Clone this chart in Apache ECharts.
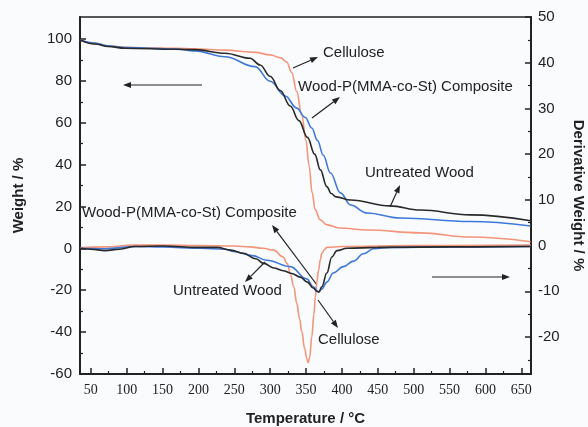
<!DOCTYPE html>
<html>
<head>
<meta charset="utf-8">
<script src="https://cdn.jsdelivr.net/npm/echarts@6/dist/echarts.min.js"></script>
<style>
  html, body { margin: 0; padding: 0; background: #fafbfd; }
  #chart { width: 588px; height: 427px; }
</style>
</head>
<body>
<div id="chart"></div>
<script>
// TGA curves (left axis, weight %)
const woodT = [35, 56, 74, 98, 168, 195, 237, 272, 286, 300, 314, 328, 340, 352, 362, 370, 379, 385, 392, 412, 467, 509, 579, 663];
const woodW = [99.5, 97.6, 96.4, 95.6, 95.1, 94.9, 93.2, 90.8, 87.6, 82.2, 75.4, 68, 61, 53, 45, 37.5, 29.5, 26.2, 24.6, 23.1, 20.3, 18.3, 16, 13.2];

const compT = [35, 56, 74, 98, 168, 195, 237, 279, 300, 321, 337, 349, 358, 366, 374, 384, 398, 412, 435, 481, 579, 663];
const compW = [99.5, 98.1, 96.7, 95.9, 95.2, 94.3, 91.5, 86.8, 79.8, 72.8, 67, 62.5, 57.5, 51.5, 44.5, 36, 26.5, 20.7, 16.9, 14.5, 12.8, 10.7];

const cellT = [35, 56, 77, 100, 125, 168, 195, 237, 279, 300, 315, 323, 330, 337, 344, 350, 354, 358.6, 362.7, 369.7, 379.5, 397.6, 435, 509, 579, 663];
const cellW = [99.5, 97.8, 96.6, 96.0, 95.8, 95.6, 95.3, 94.7, 93.6, 92.4, 91, 89, 84, 75, 63.5, 51.5, 40, 26.5, 18.5, 13.6, 11.2, 9.7, 8.8, 7.4, 5.4, 3.2];

// DTG curves (right axis, derivative weight %)
const dWoodT = [35, 50, 70, 90, 112, 150, 200, 226, 245, 263, 280, 291, 305, 318, 330, 342, 352, 360, 365, 368, 372, 379, 386, 393, 407, 450, 550, 663];
const dWoodD = [-0.6, -0.8, -1.1, -0.8, -0.2, -0.1, -0.4, -0.4, -1.0, -1.7, -2.9, -3.9, -4.9, -5.5, -6.1, -6.9, -8.0, -9.3, -10.0, -10.2, -9.0, -6.0, -2.5, -1.1, -0.6, -0.4, -0.3, -0.2];

const dCompT = [35, 70, 112, 150, 203, 237, 249, 275, 295, 328, 351, 360, 367, 372, 379, 388, 402, 416, 430, 444, 470, 550, 663];
const dCompD = [-0.6, -0.7, -0.2, -0.3, -0.6, -0.8, -1.3, -2.2, -3.2, -4.6, -7.3, -9.0, -10.1, -9.5, -8.0, -6.0, -4.6, -3.4, -1.8, -0.7, -0.4, -0.3, -0.2];

const dCellT = [35, 70, 110, 150, 200, 250, 272, 290, 305, 318, 324, 328, 333, 337, 341, 344, 348, 351, 353, 355, 358, 361, 363, 365, 367.4, 370, 372, 376, 379, 400, 500, 663];
const dCellD = [-0.5, -0.3, 0.1, 0.1, 0, -0.1, -0.3, -0.6, -1.0, -2.5, -4, -6.1, -9, -12.6, -16, -18.8, -22.5, -24.7, -25.6, -24.5, -20, -15, -11.2, -8, -5.4, -3, -1.7, -0.8, -0.4, -0.2, 0, 0.1];

// tick labels
const xTicks = [50, 100, 150, 200, 250, 300, 350, 400, 450, 500, 550, 600, 650];
const xMinor = [75, 125, 175, 225, 275, 325, 375, 425, 475, 525, 575, 625];
const leftTicks = [-60, -40, -20, 0, 20, 40, 60, 80, 100];
const leftMinor = [-50, -30, -10, 10, 30, 50, 70, 90];
const rightTicks = [-20, -10, 0, 10, 20, 30, 40, 50];
const rightMinor = [-25, -15, -5, 5, 15, 25, 35, 45];

const pairs = (xs, ys) => xs.map((x, i) => [x, ys[i]]);

const C_CELL = "#f2957a";
const C_WOOD = "#2a2a2a";
const C_COMP = "#3f78da";

function arrow(x1, y1, x2, y2) {
  const a = Math.atan2(y2 - y1, x2 - x1);
  const L = 8, w = 3;
  const bx = x2 - L * Math.cos(a), by = y2 - L * Math.sin(a);
  return {
    type: "group",
    children: [
      { type: "line", shape: { x1, y1, x2: bx, y2: by }, style: { stroke: "#222", lineWidth: 1.2 } },
      {
        type: "polygon",
        shape: { points: [[x2, y2], [bx + w * Math.sin(a), by - w * Math.cos(a)], [bx - w * Math.sin(a), by + w * Math.cos(a)]] },
        style: { fill: "#222" },
      },
    ],
  };
}

function label(text, x, y) {
  return {
    type: "text",
    x, y,
    style: { text, fill: "#222", font: "15px 'Liberation Sans', Arial, sans-serif", textVerticalAlign: "middle" },
  };
}

const tickFont = { color: "#222", fontSize: 15, fontFamily: "'Liberation Sans', Arial, sans-serif" };
const nameFont = { color: "#222", fontSize: 15, fontWeight: "bold", fontFamily: "'Liberation Sans', Arial, sans-serif" };

const line = (name, data, color, yIdx) => ({
  name, type: "line", yAxisIndex: yIdx, data, showSymbol: false,
  smooth: 0.4, smoothMonotone: "x",
  lineStyle: { color, width: 1.6 }, itemStyle: { color },
});

const chart = echarts.init(document.getElementById("chart"));
chart.setOption({
  backgroundColor: "#fafbfd",
  animation: false,
  grid: {
    left: 80, right: 57, top: 17, bottom: 53,
    outerBoundsMode: "none", containLabel: false,
    show: true, borderColor: "#222", borderWidth: 1.5, backgroundColor: "#fafbfd",
  },
  xAxis: [
    {
      type: "value", min: 35, max: 663.5,
      name: "Temperature / °C", nameLocation: "middle", nameGap: 37, nameTextStyle: nameFont,
      axisLine: { onZero: false, lineStyle: { color: "#222", width: 2 } },
      axisTick: { inside: true, length: 6, customValues: xTicks, lineStyle: { color: "#222", width: 1.5 } },
      axisLabel: { customValues: xTicks, margin: 9, color: "#222", fontSize: 14, fontFamily: "'Liberation Serif', 'Times New Roman', serif" },
      splitLine: { show: false },
    },
    {
      type: "value", min: 35, max: 663.5, position: "bottom",
      axisLine: { show: false, onZero: false },
      axisTick: { inside: true, length: 3, customValues: xMinor, lineStyle: { color: "#222", width: 1.2 } },
      axisLabel: { show: false }, splitLine: { show: false },
    },
  ],
  yAxis: [
    {
      type: "value", min: -60, max: 110.5, position: "left",
      name: "Weight / %", nameLocation: "middle", nameGap: 54, nameRotate: 90, nameTextStyle: nameFont,
      axisLine: { show: true, onZero: false, lineStyle: { color: "#222", width: 2 } },
      axisTick: { inside: true, length: 6, customValues: leftTicks, lineStyle: { color: "#222", width: 1.5 } },
      axisLabel: Object.assign({ customValues: leftTicks, margin: 8 }, tickFont),
      splitLine: { show: false },
    },
    {
      type: "value", min: -28.1, max: 50, position: "right",
      name: "Derivative Weight / %", nameLocation: "middle", nameGap: 34, nameRotate: -90, nameTextStyle: nameFont,
      axisLine: { show: true, onZero: false, lineStyle: { color: "#222", width: 2 } },
      axisTick: { inside: true, length: 6, customValues: rightTicks, lineStyle: { color: "#222", width: 1.5 } },
      axisLabel: Object.assign({ customValues: rightTicks, margin: 7 }, tickFont),
      splitLine: { show: false },
    },
    {
      type: "value", min: -60, max: 110.5, position: "left",
      axisLine: { show: false, onZero: false },
      axisTick: { inside: true, length: 3, customValues: leftMinor, lineStyle: { color: "#222", width: 1.2 } },
      axisLabel: { show: false }, splitLine: { show: false },
    },
    {
      type: "value", min: -28.1, max: 50, position: "right",
      axisLine: { show: false, onZero: false },
      axisTick: { inside: true, length: 3, customValues: rightMinor, lineStyle: { color: "#222", width: 1.2 } },
      axisLabel: { show: false }, splitLine: { show: false },
    },
  ],
  series: [
    line("Cellulose", pairs(cellT, cellW), C_CELL, 0),
    line("Cellulose DTG", pairs(dCellT, dCellD), C_CELL, 1),
    line("Composite", pairs(compT, compW), C_COMP, 0),
    line("Composite DTG", pairs(dCompT, dCompD), C_COMP, 1),
    line("Untreated Wood", pairs(woodT, woodW), C_WOOD, 0),
    line("Untreated Wood DTG", pairs(dWoodT, dWoodD), C_WOOD, 1),
  ],
  graphic: [
    label("Cellulose", 323, 53),
    arrow(293, 68, 318, 57),
    label("Wood-P(MMA-co-St) Composite", 298, 87),
    arrow(312, 118, 340, 97),
    label("Untreated Wood", 365, 173),
    arrow(390, 207, 400, 185),
    arrow(202, 85, 123, 85),
    arrow(432, 277, 510, 277),
    label("Wood-P(MMA-co-St) Composite", 82, 213),
    arrow(317, 285, 272, 225),
    label("Untreated Wood", 173, 291),
    arrow(265, 262, 245, 282),
    label("Cellulose", 318, 340),
    arrow(318, 300, 338, 328),
  ],
});
</script>
</body>
</html>
